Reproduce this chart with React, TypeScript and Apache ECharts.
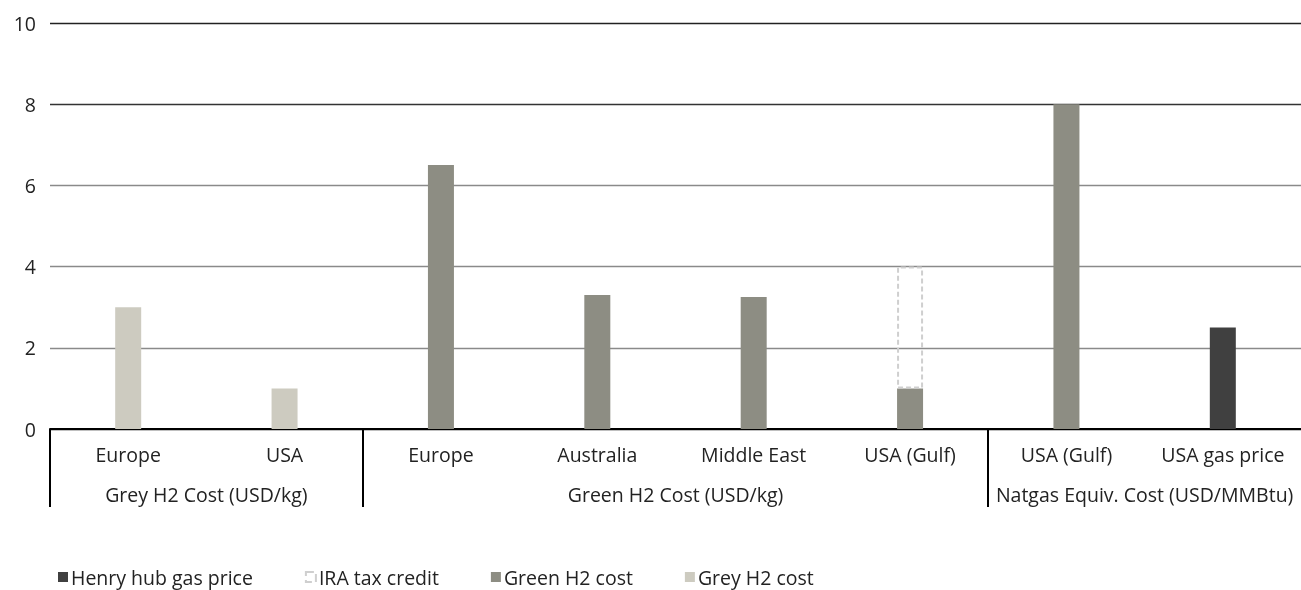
import React, { useEffect, useRef } from "react";
import * as echarts from "echarts";

const categories = ["Europe", "USA", "Europe", "Australia", "Middle East", "USA (Gulf)", "USA (Gulf)", "USA gas price"];
const groups = [
  { label: "Grey H2 Cost (USD/kg)", start: 0, end: 1 },
  { label: "Green H2 Cost (USD/kg)", start: 2, end: 5 },
  { label: "Natgas Equiv. Cost (USD/MMBtu)", start: 6, end: 7 },
];
const henryHub = [null, null, null, null, null, null, null, 2.5];
const greenH2 = [null, null, 6.5, 3.3, 3.25, 1.0, 8.0, null];
const iraCredit = [null, null, null, null, null, 3.0, null, null];
const greyH2 = [3.0, 1.0, null, null, null, null, null, null];
const yTicks = [0, 2, 4, 6, 8, 10];

const FONT = "'Open Sans', sans-serif";
const FS = 19.5;

export default function App() {
  const ref = useRef<HTMLDivElement>(null);
  useEffect(() => {
    if (!ref.current) return;
    const chart = echarts.init(ref.current, null, { renderer: "svg" });
    const option: any = {
      animation: false,
      textStyle: { fontFamily: FONT },
      grid: { left: 50, right: 0, top: 23, bottom: 161, containLabel: false },
      legend: {
        bottom: -2,
        left: 53,
        itemWidth: 10,
        itemHeight: 10,
        itemGap: 52,
        icon: "rect",
        textStyle: { fontSize: FS, color: "#222", fontFamily: FONT, padding: [0, 0, 0, -2] },
        data: [
          { name: "Henry hub gas price" },
          { name: "IRA tax credit", itemStyle: { color: "#fff", borderColor: "#cfcfcf", borderType: "dashed", borderWidth: 2 } },
          { name: "Green H2 cost" },
          { name: "Grey H2 cost" },
        ],
      },
      xAxis: {
        type: "category",
        data: categories,
        axisLine: { show: true, lineStyle: { color: "#000", width: 2 } },
        axisTick: { show: false },
        axisLabel: { fontSize: FS, color: "#222", margin: 15, interval: 0, fontFamily: FONT },
        splitLine: { show: false },
      },
      yAxis: {
        type: "value",
        min: 0,
        max: 10,
        interval: 2,
        axisLine: { show: false },
        axisTick: { show: false },
        axisLabel: { fontSize: FS, color: "#222", margin: 14, fontFamily: FONT, formatter: (v: number) => (yTicks.includes(v) ? String(v) : "") },
        splitLine: { show: true, lineStyle: { color: ["#000", "#8a8a8a", "#8a8a8a", "#8a8a8a", "#333", "#222"], width: 1.3 } },
      },
      series: [
        { name: "Henry hub gas price", type: "bar", stack: "s", data: henryHub, barWidth: 26, itemStyle: { color: "#404040" } },
        { name: "Green H2 cost", type: "bar", stack: "s", data: greenH2, barWidth: 26, itemStyle: { color: "#8d8d83" } },
        {
          name: "IRA tax credit",
          type: "bar",
          stack: "s",
          data: iraCredit,
          barWidth: 26,
          itemStyle: { color: "rgba(255,255,255,0)", borderColor: "#cfcfcf", borderType: [5, 3], borderWidth: 2 },
        },
        { name: "Grey H2 cost", type: "bar", stack: "s", data: greyH2, barWidth: 26, itemStyle: { color: "#cdcbc0" } },
      ],
    };
    chart.setOption(option);

    const p0 = chart.convertToPixel({ xAxisIndex: 0 }, 0) as number;
    const p1 = chart.convertToPixel({ xAxisIndex: 0 }, 1) as number;
    const band = p1 - p0;
    const y0 = chart.convertToPixel({ yAxisIndex: 0 }, 0) as number;
    const elements: any[] = [];
    const bounds = [0, 2, 6];
    bounds.forEach((i) => {
      const x = Math.round(p0 + i * band - band / 2);
      elements.push({ type: "line", shape: { x1: x, y1: y0, x2: x, y2: y0 + 78 }, style: { stroke: "#000", lineWidth: 2 } });
    });
    groups.forEach((g) => {
      const cx = p0 + ((g.start + g.end) / 2) * band;
      elements.push({
        type: "text",
        x: cx,
        y: y0 + 65,
        style: { text: g.label, fontSize: FS, fill: "#222", fontFamily: FONT, align: "center", verticalAlign: "middle" },
      });
    });
    chart.setOption({ graphic: elements });
    return () => chart.dispose();
  }, []);
  return <div ref={ref} style={{ position: "fixed", left: 0, top: 0, width: 1301, height: 590 }} />;
}
